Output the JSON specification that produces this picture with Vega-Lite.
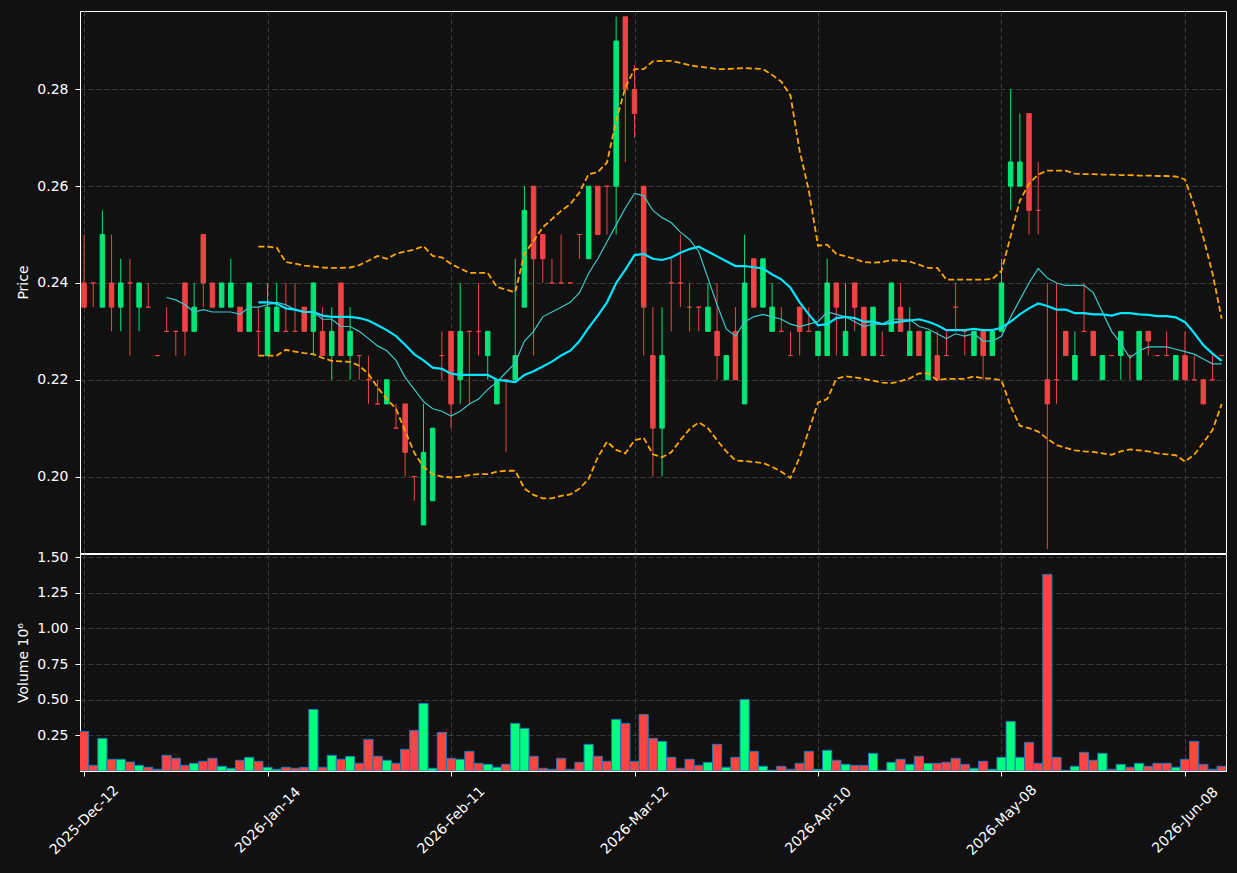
{
  "$schema": "https://vega.github.io/schema/vega-lite/v6.json",
  "autosize": {"type": "pad"},
  "padding": {"left": 16, "top": 10, "right": 12, "bottom": 30},
  "background": "#111111",
  "spacing": 1,
  "bounds": "flush",
  "config": {
    "view": {"stroke": "#ffffff", "strokeWidth": 1, "fill": "#111111"},
    "axis": {
      "gridColor": "#3c3c3c", "gridDash": [5, 3], "gridWidth": 1,
      "labelColor": "#ffffff", "tickColor": "#ffffff", "domainColor": "#ffffff",
      "labelFont": "DejaVu Sans", "labelFontSize": 14,
      "titleFont": "DejaVu Sans", "titleFontSize": 14, "titleColor": "#ffffff", "titleFontWeight": "normal",
      "tickSize": 5, "labelPadding": 7
    }
  },
  "data": {"values": [
    {"idx":0,"open":0.240,"high":0.250,"low":0.235,"close":0.235,"volume":0.278},
    {"idx":1,"open":0.240,"high":0.240,"low":0.235,"close":0.240,"volume":0.040},
    {"idx":2,"open":0.235,"high":0.255,"low":0.235,"close":0.250,"volume":0.229},
    {"idx":3,"open":0.240,"high":0.250,"low":0.230,"close":0.235,"volume":0.082},
    {"idx":4,"open":0.235,"high":0.245,"low":0.230,"close":0.240,"volume":0.082},
    {"idx":5,"open":0.240,"high":0.245,"low":0.225,"close":0.240,"volume":0.063},
    {"idx":6,"open":0.235,"high":0.240,"low":0.230,"close":0.240,"volume":0.040},
    {"idx":7,"open":0.235,"high":0.240,"low":0.235,"close":0.235,"volume":0.026},
    {"idx":8,"open":0.225,"high":0.225,"low":0.225,"close":0.225,"volume":0.012},
    {"idx":9,"open":0.230,"high":0.235,"low":0.230,"close":0.230,"volume":0.110},
    {"idx":10,"open":0.230,"high":0.230,"low":0.225,"close":0.230,"volume":0.089},
    {"idx":11,"open":0.240,"high":0.240,"low":0.225,"close":0.230,"volume":0.040},
    {"idx":12,"open":0.230,"high":0.240,"low":0.230,"close":0.235,"volume":0.054},
    {"idx":13,"open":0.250,"high":0.250,"low":0.235,"close":0.240,"volume":0.068},
    {"idx":14,"open":0.240,"high":0.240,"low":0.235,"close":0.235,"volume":0.089},
    {"idx":15,"open":0.235,"high":0.240,"low":0.235,"close":0.240,"volume":0.033},
    {"idx":16,"open":0.235,"high":0.245,"low":0.235,"close":0.240,"volume":0.019},
    {"idx":17,"open":0.235,"high":0.235,"low":0.230,"close":0.230,"volume":0.075},
    {"idx":18,"open":0.230,"high":0.240,"low":0.230,"close":0.240,"volume":0.096},
    {"idx":19,"open":0.230,"high":0.235,"low":0.225,"close":0.230,"volume":0.068,"bb_upper":0.2475,"bb_lower":0.2250},
    {"idx":20,"open":0.225,"high":0.240,"low":0.225,"close":0.235,"volume":0.026,"bb_upper":0.2475,"bb_lower":0.2250},
    {"idx":21,"open":0.230,"high":0.240,"low":0.230,"close":0.235,"volume":0.012,"bb_upper":0.2473,"bb_lower":0.2250},
    {"idx":22,"open":0.230,"high":0.240,"low":0.230,"close":0.230,"volume":0.026,"bb_upper":0.2443,"bb_lower":0.2262},
    {"idx":23,"open":0.230,"high":0.240,"low":0.230,"close":0.230,"volume":0.019,"bb_upper":0.2440,"bb_lower":0.2258},
    {"idx":24,"open":0.235,"high":0.235,"low":0.230,"close":0.230,"volume":0.026,"bb_upper":0.2436,"bb_lower":0.2255},
    {"idx":25,"open":0.230,"high":0.240,"low":0.225,"close":0.240,"volume":0.432,"bb_upper":0.2434,"bb_lower":0.2253},
    {"idx":26,"open":0.230,"high":0.235,"low":0.225,"close":0.225,"volume":0.026,"bb_upper":0.2432,"bb_lower":0.2245},
    {"idx":27,"open":0.225,"high":0.235,"low":0.220,"close":0.230,"volume":0.110,"bb_upper":0.2431,"bb_lower":0.2239},
    {"idx":28,"open":0.240,"high":0.240,"low":0.225,"close":0.225,"volume":0.082,"bb_upper":0.2431,"bb_lower":0.2238},
    {"idx":29,"open":0.225,"high":0.235,"low":0.220,"close":0.230,"volume":0.103,"bb_upper":0.2432,"bb_lower":0.2237},
    {"idx":30,"open":0.225,"high":0.225,"low":0.220,"close":0.225,"volume":0.054,"bb_upper":0.2437,"bb_lower":0.2229},
    {"idx":31,"open":0.220,"high":0.225,"low":0.215,"close":0.220,"volume":0.222,"bb_upper":0.2446,"bb_lower":0.2212},
    {"idx":32,"open":0.215,"high":0.220,"low":0.215,"close":0.215,"volume":0.103,"bb_upper":0.2456,"bb_lower":0.2184},
    {"idx":33,"open":0.215,"high":0.220,"low":0.215,"close":0.220,"volume":0.075,"bb_upper":0.2450,"bb_lower":0.2160},
    {"idx":34,"open":0.210,"high":0.215,"low":0.210,"close":0.210,"volume":0.054,"bb_upper":0.2460,"bb_lower":0.2140},
    {"idx":35,"open":0.215,"high":0.215,"low":0.200,"close":0.205,"volume":0.152,"bb_upper":0.2465,"bb_lower":0.2094},
    {"idx":36,"open":0.200,"high":0.200,"low":0.195,"close":0.200,"volume":0.285,"bb_upper":0.2469,"bb_lower":0.2049},
    {"idx":37,"open":0.190,"high":0.215,"low":0.190,"close":0.205,"volume":0.474,"bb_upper":0.2476,"bb_lower":0.2020},
    {"idx":38,"open":0.195,"high":0.210,"low":0.195,"close":0.210,"volume":0.019,"bb_upper":0.2456,"bb_lower":0.2005},
    {"idx":39,"open":0.225,"high":0.230,"low":0.220,"close":0.225,"volume":0.271,"bb_upper":0.2453,"bb_lower":0.2000},
    {"idx":40,"open":0.230,"high":0.230,"low":0.210,"close":0.215,"volume":0.089,"bb_upper":0.2439,"bb_lower":0.1998},
    {"idx":41,"open":0.220,"high":0.240,"low":0.215,"close":0.230,"volume":0.082,"bb_upper":0.2430,"bb_lower":0.2000},
    {"idx":42,"open":0.230,"high":0.230,"low":0.215,"close":0.230,"volume":0.138,"bb_upper":0.2421,"bb_lower":0.2003},
    {"idx":43,"open":0.230,"high":0.240,"low":0.225,"close":0.230,"volume":0.054,"bb_upper":0.2421,"bb_lower":0.2005},
    {"idx":44,"open":0.225,"high":0.230,"low":0.220,"close":0.230,"volume":0.047,"bb_upper":0.2421,"bb_lower":0.2005},
    {"idx":45,"open":0.215,"high":0.220,"low":0.215,"close":0.220,"volume":0.026,"bb_upper":0.2392,"bb_lower":0.2010},
    {"idx":46,"open":0.220,"high":0.220,"low":0.205,"close":0.220,"volume":0.047,"bb_upper":0.2386,"bb_lower":0.2012},
    {"idx":47,"open":0.220,"high":0.245,"low":0.220,"close":0.225,"volume":0.334,"bb_upper":0.2381,"bb_lower":0.2012},
    {"idx":48,"open":0.235,"high":0.260,"low":0.235,"close":0.255,"volume":0.299,"bb_upper":0.2460,"bb_lower":0.1975},
    {"idx":49,"open":0.260,"high":0.260,"low":0.225,"close":0.245,"volume":0.103,"bb_upper":0.2487,"bb_lower":0.1962},
    {"idx":50,"open":0.250,"high":0.250,"low":0.240,"close":0.245,"volume":0.019,"bb_upper":0.2515,"bb_lower":0.1955},
    {"idx":51,"open":0.240,"high":0.245,"low":0.240,"close":0.240,"volume":0.012,"bb_upper":0.2532,"bb_lower":0.1955},
    {"idx":52,"open":0.240,"high":0.250,"low":0.240,"close":0.240,"volume":0.089,"bb_upper":0.2549,"bb_lower":0.1960},
    {"idx":53,"open":0.240,"high":0.240,"low":0.240,"close":0.240,"volume":0.012,"bb_upper":0.2563,"bb_lower":0.1963},
    {"idx":54,"open":0.250,"high":0.250,"low":0.245,"close":0.250,"volume":0.061,"bb_upper":0.2587,"bb_lower":0.1975},
    {"idx":55,"open":0.245,"high":0.260,"low":0.245,"close":0.260,"volume":0.187,"bb_upper":0.2625,"bb_lower":0.1995},
    {"idx":56,"open":0.260,"high":0.260,"low":0.250,"close":0.250,"volume":0.103,"bb_upper":0.2629,"bb_lower":0.2040},
    {"idx":57,"open":0.260,"high":0.260,"low":0.250,"close":0.260,"volume":0.068,"bb_upper":0.2649,"bb_lower":0.2072},
    {"idx":58,"open":0.260,"high":0.295,"low":0.250,"close":0.290,"volume":0.362,"bb_upper":0.2735,"bb_lower":0.2055},
    {"idx":59,"open":0.295,"high":0.295,"low":0.265,"close":0.280,"volume":0.334,"bb_upper":0.2804,"bb_lower":0.2048},
    {"idx":60,"open":0.280,"high":0.285,"low":0.270,"close":0.275,"volume":0.068,"bb_upper":0.2842,"bb_lower":0.2075},
    {"idx":61,"open":0.260,"high":0.260,"low":0.225,"close":0.235,"volume":0.397,"bb_upper":0.2842,"bb_lower":0.2080},
    {"idx":62,"open":0.225,"high":0.235,"low":0.200,"close":0.210,"volume":0.229,"bb_upper":0.2858,"bb_lower":0.2046},
    {"idx":63,"open":0.210,"high":0.235,"low":0.200,"close":0.225,"volume":0.208,"bb_upper":0.2859,"bb_lower":0.2040},
    {"idx":64,"open":0.240,"high":0.245,"low":0.230,"close":0.240,"volume":0.096,"bb_upper":0.2859,"bb_lower":0.2050},
    {"idx":65,"open":0.240,"high":0.250,"low":0.235,"close":0.240,"volume":0.019,"bb_upper":0.2855,"bb_lower":0.2075},
    {"idx":66,"open":0.235,"high":0.240,"low":0.230,"close":0.235,"volume":0.082,"bb_upper":0.2850,"bb_lower":0.2098},
    {"idx":67,"open":0.235,"high":0.235,"low":0.230,"close":0.235,"volume":0.040,"bb_upper":0.2847,"bb_lower":0.2112},
    {"idx":68,"open":0.230,"high":0.240,"low":0.230,"close":0.235,"volume":0.061,"bb_upper":0.2845,"bb_lower":0.2100},
    {"idx":69,"open":0.230,"high":0.240,"low":0.220,"close":0.225,"volume":0.187,"bb_upper":0.2842,"bb_lower":0.2075},
    {"idx":70,"open":0.220,"high":0.225,"low":0.220,"close":0.225,"volume":0.026,"bb_upper":0.2842,"bb_lower":0.2052},
    {"idx":71,"open":0.230,"high":0.235,"low":0.220,"close":0.220,"volume":0.096,"bb_upper":0.2843,"bb_lower":0.2033},
    {"idx":72,"open":0.215,"high":0.250,"low":0.215,"close":0.240,"volume":0.502,"bb_upper":0.2844,"bb_lower":0.2032},
    {"idx":73,"open":0.245,"high":0.245,"low":0.235,"close":0.235,"volume":0.138,"bb_upper":0.2843,"bb_lower":0.2030},
    {"idx":74,"open":0.235,"high":0.245,"low":0.235,"close":0.245,"volume":0.033,"bb_upper":0.2842,"bb_lower":0.2028},
    {"idx":75,"open":0.230,"high":0.240,"low":0.230,"close":0.235,"volume":0.005,"bb_upper":0.2830,"bb_lower":0.2020},
    {"idx":76,"open":0.230,"high":0.235,"low":0.230,"close":0.230,"volume":0.033,"bb_upper":0.2816,"bb_lower":0.2010},
    {"idx":77,"open":0.225,"high":0.230,"low":0.225,"close":0.225,"volume":0.012,"bb_upper":0.2787,"bb_lower":0.1997},
    {"idx":78,"open":0.235,"high":0.235,"low":0.225,"close":0.230,"volume":0.054,"bb_upper":0.2673,"bb_lower":0.2040},
    {"idx":79,"open":0.230,"high":0.235,"low":0.230,"close":0.230,"volume":0.138,"bb_upper":0.2591,"bb_lower":0.2095},
    {"idx":80,"open":0.225,"high":0.230,"low":0.225,"close":0.230,"volume":0.012,"bb_upper":0.2477,"bb_lower":0.2153},
    {"idx":81,"open":0.225,"high":0.245,"low":0.225,"close":0.240,"volume":0.145,"bb_upper":0.2479,"bb_lower":0.2160},
    {"idx":82,"open":0.240,"high":0.240,"low":0.225,"close":0.235,"volume":0.075,"bb_upper":0.2460,"bb_lower":0.2202},
    {"idx":83,"open":0.225,"high":0.240,"low":0.225,"close":0.230,"volume":0.047,"bb_upper":0.2455,"bb_lower":0.2207},
    {"idx":84,"open":0.240,"high":0.240,"low":0.230,"close":0.235,"volume":0.040,"bb_upper":0.2450,"bb_lower":0.2205},
    {"idx":85,"open":0.235,"high":0.235,"low":0.225,"close":0.225,"volume":0.040,"bb_upper":0.2443,"bb_lower":0.2202},
    {"idx":86,"open":0.225,"high":0.235,"low":0.225,"close":0.235,"volume":0.124,"bb_upper":0.2442,"bb_lower":0.2198},
    {"idx":87,"open":0.225,"high":0.230,"low":0.225,"close":0.225,"volume":0.005,"bb_upper":0.2443,"bb_lower":0.2194},
    {"idx":88,"open":0.230,"high":0.240,"low":0.230,"close":0.240,"volume":0.061,"bb_upper":0.2447,"bb_lower":0.2193},
    {"idx":89,"open":0.235,"high":0.240,"low":0.230,"close":0.230,"volume":0.082,"bb_upper":0.2446,"bb_lower":0.2197},
    {"idx":90,"open":0.225,"high":0.235,"low":0.225,"close":0.230,"volume":0.047,"bb_upper":0.2444,"bb_lower":0.2203},
    {"idx":91,"open":0.230,"high":0.230,"low":0.225,"close":0.225,"volume":0.103,"bb_upper":0.2438,"bb_lower":0.2213},
    {"idx":92,"open":0.220,"high":0.230,"low":0.220,"close":0.230,"volume":0.054,"bb_upper":0.2431,"bb_lower":0.2213},
    {"idx":93,"open":0.225,"high":0.230,"low":0.220,"close":0.220,"volume":0.054,"bb_upper":0.2431,"bb_lower":0.2199},
    {"idx":94,"open":0.225,"high":0.230,"low":0.225,"close":0.225,"volume":0.061,"bb_upper":0.2407,"bb_lower":0.2202},
    {"idx":95,"open":0.235,"high":0.240,"low":0.230,"close":0.235,"volume":0.089,"bb_upper":0.2407,"bb_lower":0.2202},
    {"idx":96,"open":0.230,"high":0.230,"low":0.225,"close":0.230,"volume":0.047,"bb_upper":0.2407,"bb_lower":0.2202},
    {"idx":97,"open":0.225,"high":0.230,"low":0.225,"close":0.230,"volume":0.019,"bb_upper":0.2407,"bb_lower":0.2207},
    {"idx":98,"open":0.230,"high":0.230,"low":0.220,"close":0.225,"volume":0.068,"bb_upper":0.2407,"bb_lower":0.2203},
    {"idx":99,"open":0.225,"high":0.230,"low":0.225,"close":0.230,"volume":0.012,"bb_upper":0.2408,"bb_lower":0.2202},
    {"idx":100,"open":0.230,"high":0.245,"low":0.230,"close":0.240,"volume":0.096,"bb_upper":0.2425,"bb_lower":0.2199},
    {"idx":101,"open":0.260,"high":0.280,"low":0.255,"close":0.265,"volume":0.348,"bb_upper":0.2497,"bb_lower":0.2145},
    {"idx":102,"open":0.260,"high":0.275,"low":0.260,"close":0.265,"volume":0.096,"bb_upper":0.2570,"bb_lower":0.2105},
    {"idx":103,"open":0.275,"high":0.275,"low":0.250,"close":0.255,"volume":0.201,"bb_upper":0.2605,"bb_lower":0.2100},
    {"idx":104,"open":0.255,"high":0.265,"low":0.250,"close":0.255,"volume":0.054,"bb_upper":0.2624,"bb_lower":0.2093},
    {"idx":105,"open":0.220,"high":0.240,"low":0.185,"close":0.215,"volume":1.379,"bb_upper":0.2632,"bb_lower":0.2078},
    {"idx":106,"open":0.220,"high":0.240,"low":0.215,"close":0.220,"volume":0.096,"bb_upper":0.2632,"bb_lower":0.2065},
    {"idx":107,"open":0.230,"high":0.230,"low":0.225,"close":0.225,"volume":0.005,"bb_upper":0.2632,"bb_lower":0.2059},
    {"idx":108,"open":0.220,"high":0.230,"low":0.220,"close":0.225,"volume":0.033,"bb_upper":0.2626,"bb_lower":0.2054},
    {"idx":109,"open":0.230,"high":0.240,"low":0.230,"close":0.230,"volume":0.131,"bb_upper":0.2625,"bb_lower":0.2052},
    {"idx":110,"open":0.230,"high":0.230,"low":0.225,"close":0.225,"volume":0.075,"bb_upper":0.2625,"bb_lower":0.2051},
    {"idx":111,"open":0.220,"high":0.225,"low":0.220,"close":0.225,"volume":0.124,"bb_upper":0.2624,"bb_lower":0.2048},
    {"idx":112,"open":0.225,"high":0.225,"low":0.225,"close":0.225,"volume":0.012,"bb_upper":0.2624,"bb_lower":0.2045},
    {"idx":113,"open":0.225,"high":0.230,"low":0.220,"close":0.230,"volume":0.047,"bb_upper":0.2623,"bb_lower":0.2052},
    {"idx":114,"open":0.225,"high":0.225,"low":0.220,"close":0.225,"volume":0.026,"bb_upper":0.2623,"bb_lower":0.2056},
    {"idx":115,"open":0.220,"high":0.230,"low":0.220,"close":0.230,"volume":0.054,"bb_upper":0.2622,"bb_lower":0.2054},
    {"idx":116,"open":0.230,"high":0.230,"low":0.225,"close":0.228,"volume":0.033,"bb_upper":0.2622,"bb_lower":0.2052},
    {"idx":117,"open":0.225,"high":0.225,"low":0.225,"close":0.225,"volume":0.054,"bb_upper":0.2621,"bb_lower":0.2048},
    {"idx":118,"open":0.225,"high":0.230,"low":0.225,"close":0.225,"volume":0.054,"bb_upper":0.2621,"bb_lower":0.2046},
    {"idx":119,"open":0.220,"high":0.225,"low":0.220,"close":0.225,"volume":0.026,"bb_upper":0.2620,"bb_lower":0.2044},
    {"idx":120,"open":0.225,"high":0.230,"low":0.220,"close":0.220,"volume":0.082,"bb_upper":0.2614,"bb_lower":0.2031},
    {"idx":121,"open":0.220,"high":0.225,"low":0.220,"close":0.220,"volume":0.208,"bb_upper":0.2560,"bb_lower":0.2045},
    {"idx":122,"open":0.220,"high":0.220,"low":0.215,"close":0.215,"volume":0.047,"bb_upper":0.2494,"bb_lower":0.2070},
    {"idx":123,"open":0.220,"high":0.225,"low":0.220,"close":0.220,"volume":0.012,"bb_upper":0.2420,"bb_lower":0.2096},
    {"idx":124,"open":0.225,"high":0.225,"low":0.225,"close":0.225,"volume":0.033,"bb_upper":0.2326,"bb_lower":0.2150}
  ]},
  "vconcat": [
    {
      "width": 1146,
      "height": 542,
      "encoding": {
        "x": {
          "field": "idx", "type": "quantitative",
          "scale": {"domain": [-0.44, 124.47], "nice": false, "zero": false, "padding": 0},
          "axis": {"values": [0, 20, 40, 60, 80, 100, 120], "labels": false, "ticks": false, "domain": false, "grid": true, "title": null}
        }
      },
      "layer": [
        {
          "mark": {"type": "rule", "strokeWidth": 1, "clip": true},
          "encoding": {
            "y": {
              "field": "low", "type": "quantitative",
              "scale": {"domain": [0.1842, 0.2962], "nice": false, "zero": false},
              "axis": {"values": [0.20, 0.22, 0.24, 0.26, 0.28], "format": ".2f", "title": "Price", "titlePadding": 6, "grid": true}
            },
            "y2": {"field": "high"},
            "color": {"condition": {"test": "datum.close > datum.open", "value": "#00e676"}, "value": "#ef4444"}
          }
        },
        {
          "mark": {"type": "bar", "size": 4.5, "strokeWidth": 1, "clip": true},
          "encoding": {
            "y": {"field": "open", "type": "quantitative"},
            "y2": {"field": "close"},
            "color": {"condition": {"test": "datum.close > datum.open", "value": "#00e676"}, "value": "#ef4444"},
            "stroke": {"condition": {"test": "datum.close > datum.open", "value": "#00e676"}, "value": "#ef4444"}
          }
        },
        {
          "mark": {"type": "line", "color": "#ffa500", "strokeWidth": 1.8, "strokeDash": [6, 3], "clip": true},
          "encoding": {"y": {"field": "bb_upper", "type": "quantitative"}}
        },
        {
          "mark": {"type": "line", "color": "#ffa500", "strokeWidth": 1.8, "strokeDash": [6, 3], "clip": true},
          "encoding": {"y": {"field": "bb_lower", "type": "quantitative"}}
        },
        {
          "transform": [
            {"window": [{"op": "mean", "field": "close", "as": "ma10"}, {"op": "count", "field": "close", "as": "n10"}], "frame": [-9, 0], "sort": [{"field": "idx", "order": "ascending"}]},
            {"filter": "datum.n10 >= 10"}
          ],
          "mark": {"type": "line", "color": "#3cc8c8", "strokeWidth": 1.2, "clip": true},
          "encoding": {"y": {"field": "ma10", "type": "quantitative"}}
        },
        {
          "transform": [
            {"window": [{"op": "mean", "field": "close", "as": "ma20"}, {"op": "count", "field": "close", "as": "n20"}], "frame": [-19, 0], "sort": [{"field": "idx", "order": "ascending"}]},
            {"filter": "datum.n20 >= 20"}
          ],
          "mark": {"type": "line", "color": "#00e5ff", "strokeWidth": 2.2, "clip": true},
          "encoding": {"y": {"field": "ma20", "type": "quantitative"}}
        }
      ]
    },
    {
      "width": 1146,
      "height": 217,
      "mark": {"type": "bar", "size": 9.175, "stroke": "#1f77b4", "strokeWidth": 1, "clip": true},
      "encoding": {
        "x": {
          "field": "idx", "type": "quantitative",
          "scale": {"domain": [-0.44, 124.47], "nice": false, "zero": false, "padding": 0},
          "axis": {
            "values": [0, 20, 40, 60, 80, 100, 120],
            "labelExpr": "['2025-Dec-12','2026-Jan-14','2026-Feb-11','2026-Mar-12','2026-Apr-10','2026-May-08','2026-Jun-08'][round(datum.value / 20)]",
            "labelAngle": -45, "labelAlign": "center", "labelBaseline": "middle",
            "labelPadding": 44, "labelFlush": false, "labelOverlap": false, "labelBound": false,
            "grid": true, "title": null
          }
        },
        "y": {
          "field": "volume", "type": "quantitative",
          "scale": {"domain": [0, 1.522], "nice": false, "zero": true},
          "axis": {"values": [0.25, 0.5, 0.75, 1.0, 1.25, 1.5], "format": ".2f", "title": "Volume  10⁶", "titlePadding": 6, "grid": true}
        },
        "color": {"condition": {"test": "datum.close > datum.open", "value": "#00ff7f"}, "value": "#ff4444"}
      }
    }
  ]
}
